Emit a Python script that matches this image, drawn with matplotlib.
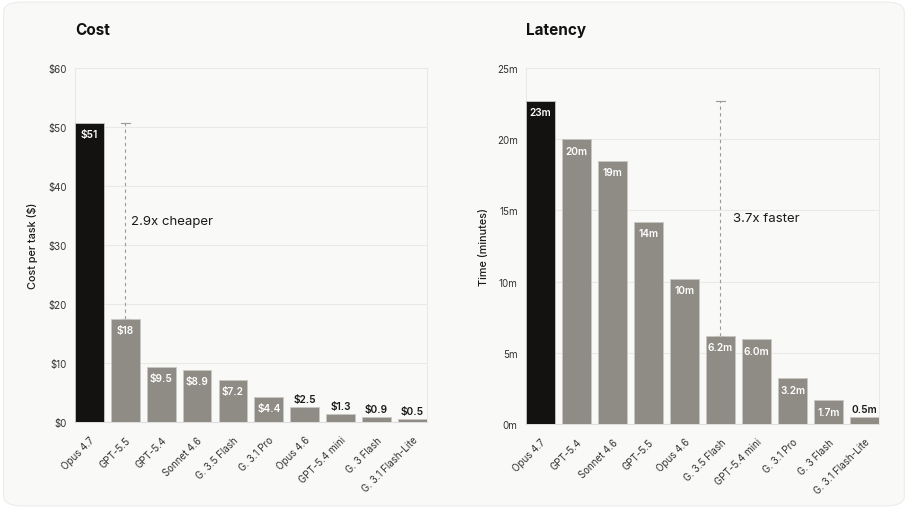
import matplotlib.pyplot as plt
from matplotlib.patches import FancyBboxPatch

plt.rcParams["font.family"] = ["Inter", "DejaVu Sans"]

# cost panel data
cost_models = ["Opus 4.7", "GPT-5.5", "GPT-5.4", "Sonnet 4.6", "G. 3.5 Flash",
               "G. 3.1 Pro", "Opus 4.6", "GPT-5.4 mini", "G. 3 Flash", "G. 3.1 Flash-Lite"]
cost_values = [50.7, 17.5, 9.4, 8.8, 7.1, 4.3, 2.5, 1.3, 0.9, 0.5]
cost_labels = ["$51", "$18", "$9.5", "$8.9", "$7.2", "$4.4", "$2.5", "$1.3", "$0.9", "$0.5"]
cost_ticks = [0, 10, 20, 30, 40, 50, 60]
cost_tick_labels = ["$0", "$10", "$20", "$30", "$40", "$50", "$60"]

# latency panel data
lat_models = ["Opus 4.7", "GPT-5.4", "Sonnet 4.6", "GPT-5.5", "Opus 4.6",
              "G. 3.5 Flash", "GPT-5.4 mini", "G. 3.1 Pro", "G. 3 Flash", "G. 3.1 Flash-Lite"]
lat_values = [22.7, 20.0, 18.5, 14.2, 10.2, 6.2, 5.95, 3.2, 1.65, 0.5]
lat_labels = ["23m", "20m", "19m", "14m", "10m", "6.2m", "6.0m", "3.2m", "1.7m", "0.5m"]
lat_ticks = [0, 5, 10, 15, 20, 25]
lat_tick_labels = ["0m", "5m", "10m", "15m", "20m", "25m"]

BG = "#f9f9f7"
DARK = "#131210"
GREY = "#8f8c85"
GRID = "#e9e9e6"


def draw_panel(fig, rect, title, models, values, labels, ticks, tick_labels,
               ylabel, ymax, inside_min, bracket, note, ylabel_x):
    ax = fig.add_axes(rect)
    ax.set_facecolor(BG)
    x = range(len(models))
    colors = [DARK] + [GREY] * (len(models) - 1)
    ax.bar(x, values, width=0.8, color=colors, edgecolor="#c9c7c2",
           linewidth=0.6, zorder=3)
    for i, (v, lab) in enumerate(zip(values, labels)):
        if v >= inside_min:
            ax.text(i, v - ymax * 0.018, lab, ha="center", va="top", color="white",
                    fontsize=7.3, fontweight="semibold", zorder=4)
        else:
            ax.text(i, v + ymax * 0.008, lab, ha="center", va="bottom", color="#1a1a1a",
                    fontsize=7.3, fontweight="semibold", zorder=4)

    # dashed comparison bracket
    bx, y0, y1 = bracket
    ax.plot([bx, bx], [y0, y1], ls=(0, (3, 3)), color="#9a9a98", lw=0.8, zorder=2)
    for yy in (y0, y1):
        ax.plot([bx - 0.13, bx + 0.13], [yy, yy], color="#9a9a98", lw=0.8, zorder=2)
    nx, ny, ntext = note
    ax.text(nx, ny, ntext, fontsize=9.5, color="#1a1a1a", va="center", ha="left")

    ax.set_xlim(-0.4, len(models) - 0.6)
    ax.set_ylim(0, ymax)
    ax.set_yticks(ticks)
    ax.set_yticklabels(tick_labels, fontsize=7, color="#333333")
    ax.set_xticks(list(x))
    ax.set_xticklabels(models, rotation=45, ha="right", rotation_mode="anchor",
                       fontsize=7, color="#333333")
    ax.tick_params(length=0, pad=6)
    ax.tick_params(axis="x", pad=9)
    ax.grid(axis="y", color=GRID, lw=0.8, zorder=0)
    for side in ("top", "right", "left"):
        ax.spines[side].set_color(GRID)
        ax.spines[side].set_linewidth(0.8)
    ax.spines["bottom"].set_color("#dddddb")
    fig.text(ylabel_x, rect[1] + rect[3] / 2, ylabel, fontsize=7.8, fontweight="medium",
             color="#1a1a1a", rotation=90, ha="center", va="center")
    fig.text(rect[0], 0.94, title, fontsize=11, fontweight="bold", color="#111111",
             va="center", ha="left")
    return ax


fig = plt.figure(figsize=(9.08, 5.1), dpi=100)
fig.patch.set_facecolor("white")
card = FancyBboxPatch((0.004, 0.006), 0.992, 0.988, boxstyle="round,pad=0,rounding_size=0.02",
                      transform=fig.transFigure, facecolor=BG, edgecolor="#ececea", lw=0.8,
                      zorder=-10)
fig.patches.append(card)

draw_panel(fig, [0.0826, 0.1706, 0.3874, 0.6941], "Cost", cost_models, cost_values,
           cost_labels, cost_ticks, cost_tick_labels, "Cost per task ($)", 60, 3.0,
           (1, cost_values[1], cost_values[0]), (1.15, 34, "2.9x cheaper"), 33 / 908)
draw_panel(fig, [0.5793, 0.1667, 0.3887, 0.6980], "Latency", lat_models, lat_values,
           lat_labels, lat_ticks, lat_tick_labels, "Time (minutes)", 25, 1.0,
           (5, lat_values[5], lat_values[0]), (5.35, 14.5, "3.7x faster"), 484 / 908)

fig.savefig("out.png", dpi=100, facecolor=fig.get_facecolor())
